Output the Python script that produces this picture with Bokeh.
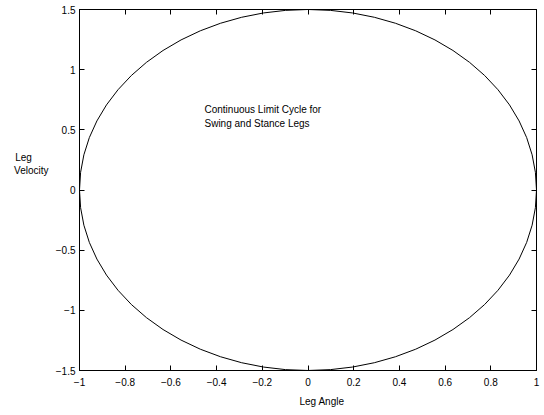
from bokeh.plotting import figure
from bokeh.models import LinearAxis, FixedTicker, Label, Range1d, Title
from bokeh.embed import file_html
from bokeh.resources import INLINE

# Limit cycle (ellipse) parameters
center_x = [0.0]
center_y = [0.0]
angle_amplitude = [1.0]      # half-width along Leg Angle
velocity_amplitude = [1.5]   # half-height along Leg Velocity

x_ticks = [-1, -0.8, -0.6, -0.4, -0.2, 0, 0.2, 0.4, 0.6, 0.8, 1]
x_tick_labels = ["\u22121", "\u22120.8", "\u22120.6", "\u22120.4", "\u22120.2", "0",
                 "0.2", "0.4", "0.6", "0.8", "1"]
y_ticks = [-1.5, -1, -0.5, 0, 0.5, 1, 1.5]
y_tick_labels = ["\u22121.5", "\u22121", "\u22120.5", "0", "0.5", "1", "1.5"]

x_label = "Leg Angle"
y_label_lines = ["Leg", "Velocity"]
annotation = "Continuous Limit Cycle for\nSwing and Stance Legs"

FONT = "Liberation Sans"
NBSP = "\u00a0"

p = figure(width=544, height=415, output_backend="svg", toolbar_location=None,
           x_range=Range1d(-1, 1), y_range=Range1d(-1.5, 1.5),
           min_border_left=79, min_border_right=8, min_border_top=9, min_border_bottom=45,
           x_axis_location=None, y_axis_location=None)
p.background_fill_color = "white"
p.border_fill_color = "white"
p.outline_line_color = "black"
p.outline_line_width = 1
p.xgrid.visible = False
p.ygrid.visible = False

def style_axis(ax, ticks, overrides, show_labels, standoff):
    ax.ticker = FixedTicker(ticks=ticks, minor_ticks=[])
    ax.major_tick_in = 5
    ax.major_tick_out = 0
    ax.minor_tick_in = 0
    ax.minor_tick_out = 0
    ax.axis_line_color = "black"
    ax.major_tick_line_color = "black"
    ax.major_label_text_font = FONT
    ax.major_label_text_color = "black"
    if show_labels:
        ax.major_label_overrides = {t: s for t, s in zip(ticks, overrides)}
        ax.major_label_text_font_size = "10px"
        ax.major_label_standoff = standoff
    else:
        ax.major_label_overrides = {t: "" for t in ticks}
        ax.major_label_text_font_size = "0px"
        ax.major_label_standoff = 0

bottom = LinearAxis()
style_axis(bottom, x_ticks, x_tick_labels, True, 7)
p.add_layout(bottom, "below")
left = LinearAxis()
style_axis(left, y_ticks, y_tick_labels, True, 4)
p.add_layout(left, "left")
top = LinearAxis()
style_axis(top, x_ticks, x_tick_labels, False, 0)
p.add_layout(top, "above")
right = LinearAxis()
style_axis(right, y_ticks, y_tick_labels, False, 0)
p.add_layout(right, "right")

# invisible helper axis that only carries the horizontal "Leg Velocity" label;
# lines are padded so the block is left-aligned and sits above the frame centre
y_label_text = (y_label_lines[0] + NBSP * 6 + "\n" + y_label_lines[1]
                + ("\n" + NBSP) * 4)
ylab_axis = LinearAxis(ticker=FixedTicker(ticks=[]),
                       axis_label=y_label_text, axis_label_orientation="horizontal",
                       axis_label_text_font=FONT, axis_label_text_font_size="10px",
                       axis_label_text_font_style="normal", axis_label_text_color="black",
                       axis_label_standoff=4, axis_label_text_line_height=1.2,
                       axis_line_color=None, major_tick_line_color=None,
                       minor_tick_line_color=None, major_label_text_font_size="0px")
p.add_layout(ylab_axis, "left")

p.ellipse(x=center_x, y=center_y,
          width=[2 * a for a in angle_amplitude],
          height=[2 * b for b in velocity_amplitude],
          fill_color=None, line_color="black", line_width=1)

p.add_layout(Label(x=-0.453, y=0.711, text=annotation, text_font=FONT,
                   text_font_size="10px", text_color="black",
                   text_align="left", text_baseline="top", text_line_height=1.2))

p.add_layout(Title(text=x_label, align="left", offset=220, text_font=FONT,
                   text_font_size="10px", text_font_style="normal",
                   vertical_align="bottom",
                   text_color="black", standoff=11), "below")

open("out.html", "w").write(file_html(p, INLINE))
